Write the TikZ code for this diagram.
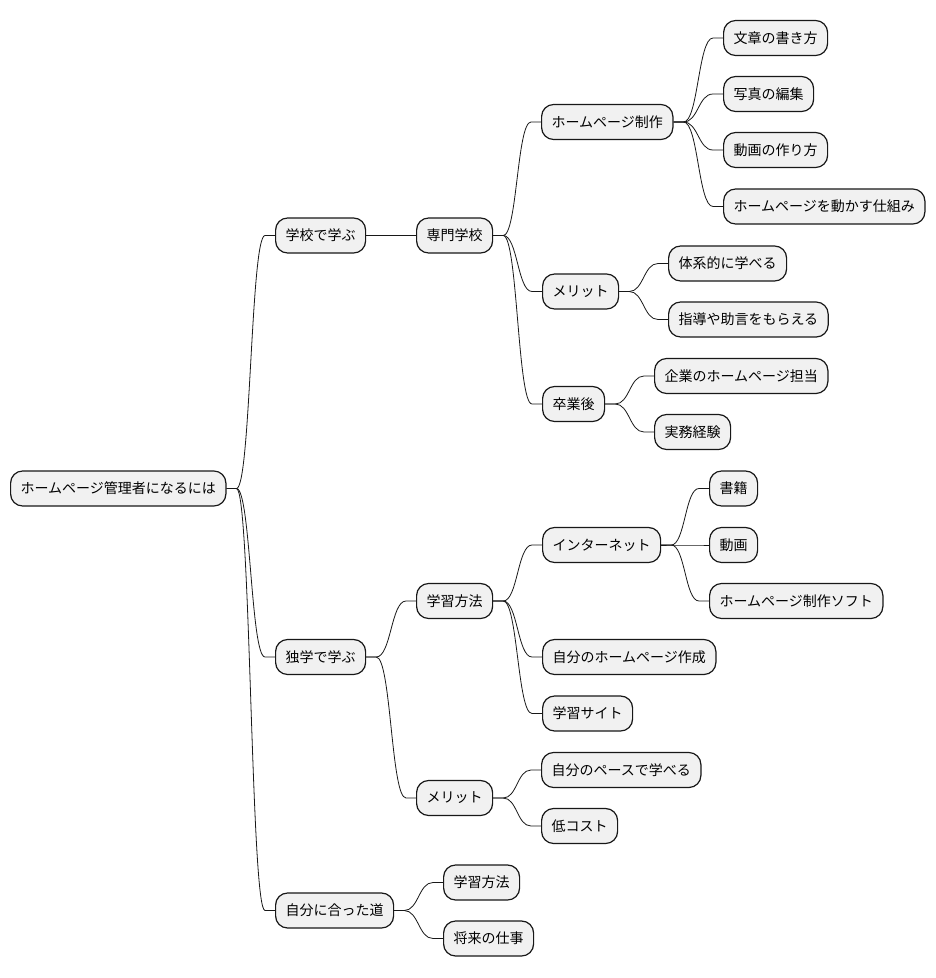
\documentclass[tikz,border=0pt]{standalone}
\usepackage{fontspec}
\newfontfamily\cjk{Noto Sans CJK JP}
\usetikzlibrary{calc}
\definecolor{nodefill}{HTML}{F1F1F1}
\definecolor{nodeline}{HTML}{181818}
\tikzset{
  mm/.style={draw=nodeline, fill=nodefill, line width=1.2pt, rounded corners=12pt,
    minimum height=35pt, inner xsep=10pt, inner ysep=0pt, anchor=west,
    font=\cjk\fontsize{14pt}{16pt}\selectfont, text=black},
  link/.style={draw=nodeline, line width=0.8pt}
}
\newcommand{\mmlink}[2]{%
  \path (#1.east) ++(10,0) coordinate (mmA);
  \path (#2.west) ++(-10,0) coordinate (mmB);
  \path ($(mmA)!0.5!(mmB)$) coordinate (mmM);
  \draw[link] (#1.east) -- (mmA) .. controls (mmM |- mmA) and (mmM |- mmB) .. (mmB) -- (#2.west);}
\begin{document}
\begin{tikzpicture}[x=1pt,y=-1pt]
\fill[white] (0,0) rectangle (936,978);
\useasboundingbox (0,0) rectangle (936,978);

\node[mm] (root) at (10,488.5) {ホームページ管理者になるには};
\node[mm] (school) at (275,235.5) {学校で学ぶ};
\node[mm] (senmon) at (416,235.5) {専門学校};
\node[mm] (hpmake) at (541,122) {ホームページ制作};
\node[mm] (bunsho) at (723,38) {文章の書き方};
\node[mm] (shashin) at (723,94) {写真の編集};
\node[mm] (douga1) at (723,150) {動画の作り方};
\node[mm] (shikumi) at (723,206.5) {ホームページを動かす仕組み};
\node[mm] (merit1) at (542,291.5) {メリット};
\node[mm] (taikei) at (668,263.5) {体系的に学べる};
\node[mm] (shidou) at (668,319.5) {指導や助言をもらえる};
\node[mm] (sotsu) at (542,404) {卒業後};
\node[mm] (kigyou) at (654,376) {企業のホームページ担当};
\node[mm] (jitsumu) at (654,432) {実務経験};
\node[mm] (dokugaku) at (275,657) {独学で学ぶ};
\node[mm] (hohou1) at (416,601) {学習方法};
\node[mm] (inet) at (542,545) {インターネット};
\node[mm] (shoseki) at (709,488.5) {書籍};
\node[mm] (douga2) at (709,545) {動画};
\node[mm] (soft) at (709,601) {ホームページ制作ソフト};
\node[mm] (jibunhp) at (542,657) {自分のホームページ作成};
\node[mm] (site) at (542,713.5) {学習サイト};
\node[mm] (merit2) at (416,798) {メリット};
\node[mm] (pace) at (541,770) {自分のペースで学べる};
\node[mm] (cost) at (541,826) {低コスト};
\node[mm] (michi) at (275,910.5) {自分に合った道};
\node[mm] (hohou2) at (443,882.5) {学習方法};
\node[mm] (shigoto) at (443,938.5) {将来の仕事};

\mmlink{root}{school}
\mmlink{root}{dokugaku}
\mmlink{root}{michi}
\mmlink{school}{senmon}
\mmlink{senmon}{hpmake}
\mmlink{senmon}{merit1}
\mmlink{senmon}{sotsu}
\mmlink{hpmake}{bunsho}
\mmlink{hpmake}{shashin}
\mmlink{hpmake}{douga1}
\mmlink{hpmake}{shikumi}
\mmlink{merit1}{taikei}
\mmlink{merit1}{shidou}
\mmlink{sotsu}{kigyou}
\mmlink{sotsu}{jitsumu}
\mmlink{dokugaku}{hohou1}
\mmlink{dokugaku}{merit2}
\mmlink{hohou1}{inet}
\mmlink{hohou1}{jibunhp}
\mmlink{hohou1}{site}
\mmlink{inet}{shoseki}
\mmlink{inet}{douga2}
\mmlink{inet}{soft}
\mmlink{merit2}{pace}
\mmlink{merit2}{cost}
\mmlink{michi}{hohou2}
\mmlink{michi}{shigoto}
\end{tikzpicture}
\end{document}
